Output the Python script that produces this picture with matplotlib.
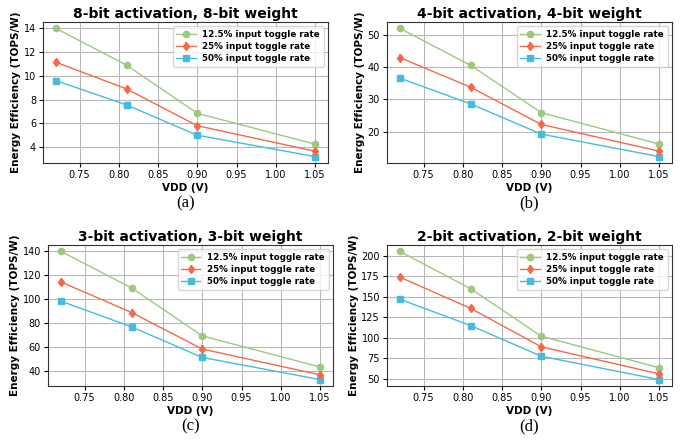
import numpy as np
import matplotlib
matplotlib.use("Agg")
import matplotlib.pyplot as plt

vdd = [0.72, 0.81, 0.90, 1.05]
labels = ["12.5% input toggle rate", "25% input toggle rate", "50% input toggle rate"]
titles = ["8-bit activation, 8-bit weight", "4-bit activation, 4-bit weight",
          "3-bit activation, 3-bit weight", "2-bit activation, 2-bit weight"]
captions = ["(a)", "(b)", "(c)", "(d)"]

# efficiency (TOPS/W) per panel, one list per toggle rate
eff_8bit = [[14.0, 10.9, 6.85, 4.25], [11.15, 8.9, 5.8, 3.65], [9.6, 7.55, 5.0, 3.2]]
eff_4bit = [[52.1, 40.6, 25.9, 16.1], [43.0, 33.8, 22.2, 13.9], [36.6, 28.6, 19.2, 12.2]]
eff_3bit = [[139.5, 109.0, 69.0, 43.0], [114.0, 88.5, 58.0, 36.5], [98.0, 76.5, 51.0, 32.5]]
eff_2bit = [[205.5, 160.0, 102.0, 63.5], [174.0, 136.0, 89.0, 56.0], [147.0, 115.0, 77.5, 49.0]]
# small error bars on the 25% series
err_8bit = [0.25, 0.25, 0.25, 0.15]
err_4bit = [1.0, 1.0, 1.0, 0.6]
err_3bit = [3.0, 3.0, 3.0, 1.8]
err_2bit = [4.5, 4.5, 4.5, 2.8]

panels = [(eff_8bit, err_8bit), (eff_4bit, err_4bit), (eff_3bit, err_3bit), (eff_2bit, err_2bit)]
colors = ["#9DC97F", "#F4694A", "#45BCDC"]
markers = ["o", "d", "s"]

fig = plt.figure(figsize=(6.86, 4.41), dpi=100)
# axes boxes in pixels: left, top, right, bottom
boxes = [(43, 22, 328, 163), (387, 22, 672, 163), (48, 245, 333, 386), (387, 245, 672, 386)]
W, H = 686.0, 441.0

for i, (data, err) in enumerate(panels):
    l, t, r, b = boxes[i]
    ax = fig.add_axes([l / W, 1 - b / H, (r - l) / W, (b - t) / H])
    handles = []
    for j in range(3):
        if j == 1:
            h = ax.errorbar(vdd, data[j], yerr=err, color=colors[j], marker=markers[j],
                            markersize=4.5, linewidth=1.0, elinewidth=1.2, label=labels[j])
        else:
            h, = ax.plot(vdd, data[j], color=colors[j], marker=markers[j], markersize=4.5,
                         linewidth=1.0, label=labels[j])
        handles.append(h)
    ax.grid(True, color="#b8b8b8", linewidth=0.8)
    ax.set_axisbelow(True)
    ax.set_title(titles[i], fontsize=10, fontweight="bold", pad=3)
    ax.set_xlabel("VDD (V)", fontsize=7.5, fontweight="bold", labelpad=2)
    ax.set_ylabel("Energy Efficiency (TOPS/W)", fontsize=7.5, fontweight="bold", labelpad=2)
    ax.set_xticks([0.75, 0.80, 0.85, 0.90, 0.95, 1.00, 1.05])
    ax.tick_params(labelsize=7, length=3, pad=2)
    for s in ax.spines.values():
        s.set_color("#333333")
    ax.legend(handles, labels, loc="upper right", prop={"size": 6.3, "weight": "bold"},
              framealpha=0.8, borderpad=0.4, labelspacing=0.35, handlelength=2.2)
    cx = (l + r) / 2 / W
    cy = 1 - (b + 40) / H
    fig.text(cx, cy, captions[i], ha="center", va="center", fontsize=12,
             family="Liberation Serif")

fig.savefig("out.png", dpi=100)
